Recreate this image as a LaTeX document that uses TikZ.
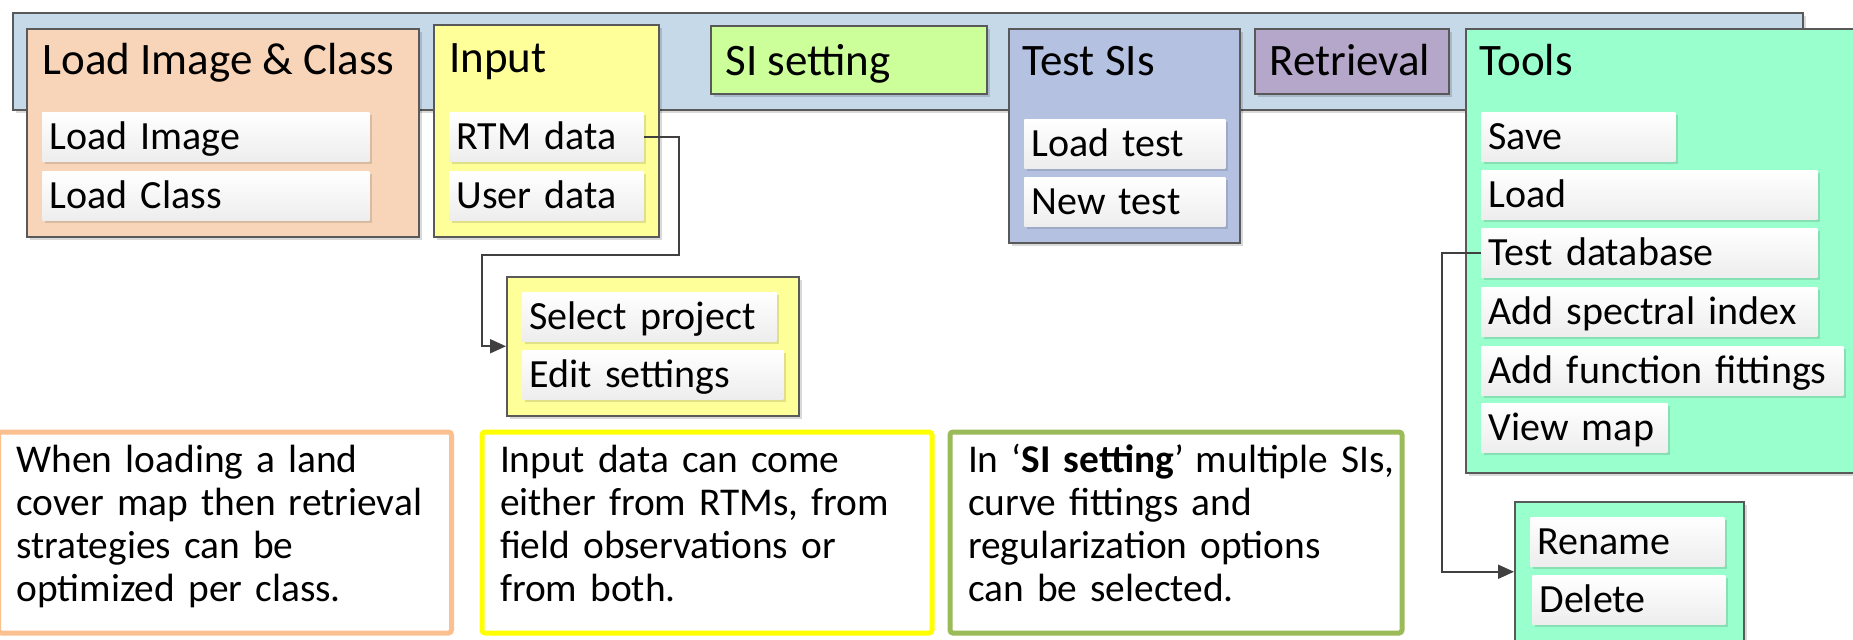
\documentclass[tikz,border=0pt]{standalone}
\usepackage{fontspec}
\setmainfont{Carlito}
\usetikzlibrary{arrows.meta,calc,shadows}
\definecolor{BarClr}{HTML}{C6D9E9}
\definecolor{LoadClr}{HTML}{F8D5B8}
\definecolor{InputClr}{HTML}{FFFF99}
\definecolor{SIClr}{HTML}{CCFF99}
\definecolor{TestClr}{HTML}{B4C1E1}
\definecolor{RetrClr}{HTML}{B4A7C9}
\definecolor{ToolsClr}{HTML}{99FFCC}
\definecolor{EdgeClr}{HTML}{595959}
\definecolor{LineClr}{HTML}{404040}
\definecolor{NoteOrange}{HTML}{FAC090}
\definecolor{NoteYellow}{HTML}{FFFF00}
\definecolor{NoteGreen}{HTML}{9BBB59}

\tikzset{
  panel/.style={draw=EdgeClr,line width=0.75pt,anchor=north west,inner sep=0pt,
    drop shadow={shadow xshift=1.5pt,shadow yshift=-1.5pt,fill=black,opacity=0.15}},
  menutitle/.style={anchor=base west,inner sep=0pt,font=\fontsize{22.5}{27}\selectfont},
  btn/.style={anchor=north west,text width=#1,align=left,inner xsep=3.5pt,inner ysep=0pt,
    minimum height=24.5pt,text height=16pt,text depth=3.4pt,
    top color=white,bottom color=black!7,font=\fontsize{20}{24}\selectfont,
    drop shadow={shadow xshift=1.5pt,shadow yshift=-1.5pt,fill=black,opacity=0.12}},
  note/.style={draw=#1,line width=2.5pt,rounded corners=1.5pt,fill=white,anchor=north west,
    align=left,inner xsep=9pt,minimum height=100.5pt,text depth=74pt,
    font=\fontsize{19.7}{21.5}\selectfont},
  conn/.style={draw=LineClr,line width=1pt,-{Triangle[length=8pt,width=7pt]}}
}

\begin{document}
\begin{tikzpicture}[x=0.5pt,y=-0.5pt]
\useasboundingbox (0,0) rectangle (1853,639);
\clip (0,0) rectangle (1853,639);

% menu bar and drop-down panels
\node[panel,fill=BarClr,minimum width=895pt,minimum height=48.5pt] (bar) at (12,12) {};
\node[panel,fill=LoadClr,minimum width=196pt,minimum height=104pt] (loadbox) at (26,28) {};
\node[panel,fill=InputClr,minimum width=112.5pt,minimum height=106pt] (inputbox) at (433,24) {};
\node[panel,fill=SIClr,minimum width=138pt,minimum height=34pt] (sibox) at (710,25) {};
\node[panel,fill=TestClr,minimum width=115.5pt,minimum height=107pt] (testbox) at (1008,28) {};
\node[panel,fill=RetrClr,minimum width=97pt,minimum height=32.5pt] (retrbox) at (1254,28) {};
\node[panel,fill=ToolsClr,minimum width=210pt,minimum height=222pt] (toolsbox) at (1465,28) {};
\node[panel,fill=InputClr,minimum width=146pt,minimum height=69.5pt] (selbox) at (506,276) {};
\node[panel,fill=ToolsClr,minimum width=114.5pt,minimum height=70pt] (renbox) at (1514,501) {};

\node[menutitle] (loadT) at (42,74) {Load Image \& Class};
\node[menutitle] (inputT) at (449,72) {Input};
\node[menutitle] (siT) at (725,75) {SI setting};
\node[menutitle] (testT) at (1022,75) {Test SIs};
\node[menutitle] (retrT) at (1269,75) {Retrieval};
\node[menutitle] (toolsT) at (1479,75) {Tools};

% menu items
\node[btn=156.5pt] (loadimg) at (42,112) {Load Image};
\node[btn=156.5pt] (loadcls) at (42,171) {Load Class};
\node[btn=90pt] (rtm) at (449,112) {RTM data};
\node[btn=90pt] (user) at (449,171) {User data};
\node[btn=93.5pt] (loadtest) at (1024,119) {Load test};
\node[btn=93.5pt] (newtest) at (1024,177) {New test};
\node[btn=90pt] (save) at (1481,112) {Save};
\node[btn=161pt] (load) at (1481,170) {Load};
\node[btn=161pt] (testdb) at (1481,228) {Test database};
\node[btn=161pt] (addsi) at (1481,287) {Add spectral index};
\node[btn=174pt] (addfit) at (1481,346) {Add function fittings};
\node[btn=86pt] (viewmap) at (1481,403) {View map};
\node[btn=120pt] (selproj) at (522,292) {Select project};
\node[btn=123.5pt] (editset) at (522,350) {Edit settings};
\node[btn=90pt] (rename) at (1530,517) {Rename};
\node[btn=89.5pt] (delete) at (1532,575) {Delete};

% notes
\node[note=NoteOrange,text width=208.5pt] (noteA) at (-4,429.5)
  {When loading a land\\cover map then retrieval\\strategies can be\\optimized per class.};
\node[note=NoteYellow,text width=207pt] (noteB) at (479.5,429.5)
  {Input data can come\\either from RTMs, from\\field observations or\\from both.};
\node[note=NoteGreen,text width=208pt] (noteC) at (947.5,429.5)
  {\mbox{In ‘\textbf{SI setting}’\hspace{0.3em}multiple SIs,}\\curve fittings and\\regularization options\\can be selected.};

% sub-menus
\coordinate (bendA) at (679,255);
\coordinate (bendB) at (482,255);
\draw[conn] (rtm.east) -| (bendA) -- (bendB) |- (selbox.west);
\draw[conn] (testdb.west) -- ++(-39,0) |- (renbox.west);

\end{tikzpicture}
\end{document}
